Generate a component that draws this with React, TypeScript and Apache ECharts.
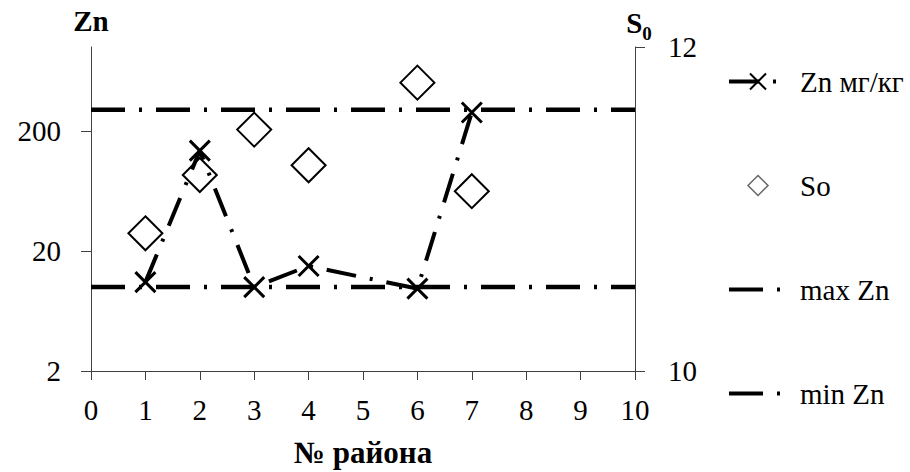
import React, { useEffect, useRef } from "react";
import * as echarts from "echarts";

const districtsZn = [1, 2, 3, 4, 6, 7];
const znValues = [11, 137, 10, 15, 9.7, 285];
const districtsSo = [1, 2, 3, 4, 6, 7];
const soValues = [10.85, 11.21, 11.49, 11.27, 11.78, 11.11];
const maxZn = 300;
const minZn = 10;
const xRange = [0, 10];
const leftTicks = [2, 20, 200];

const FONT = "'Liberation Serif', 'Times New Roman', serif";
const AXIS_COLOR = "#404040";

export default function App() {
  const ref = useRef<HTMLDivElement>(null);
  useEffect(() => {
    document.body.style.margin = "0";
    const chart = echarts.init(ref.current!, null, { renderer: "svg" });
    const lineDash = [34, 14, 3, 14];
    chart.setOption({
      animation: false,
      backgroundColor: "#fff",
      textStyle: { fontFamily: FONT, color: "#000" },
      grid: { left: 91, right: 275, top: 47, bottom: 101, outerBoundsMode: "none" },
      legend: {
        orient: "vertical",
        left: 722,
        top: 62,
        itemWidth: 58,
        itemHeight: 20,
        itemGap: 75,
        symbolKeepAspect: true,
        lineStyle: { width: 4 },
        textStyle: { fontFamily: FONT, fontSize: 29, color: "#000", padding: [0, 0, 0, 8] },
        data: [
          { name: "Zn мг/кг" },
          {
            name: "So",
            icon: "path://M9,0L18,9L9,18L0,9Z",
            itemStyle: { color: "none", borderColor: "#666", borderWidth: 1.5 },
          },
          { name: "max Zn", itemStyle: { opacity: 0 } },
          { name: "min Zn", itemStyle: { opacity: 0 } },
        ],
      },
      xAxis: {
        type: "value",
        min: xRange[0],
        max: xRange[1],
        interval: 1,
        name: "№ района",
        nameLocation: "middle",
        nameGap: 66,
        nameTextStyle: { fontFamily: FONT, fontWeight: "bold", fontSize: 31, color: "#000" },
        axisLine: { lineStyle: { color: AXIS_COLOR, width: 1 } },
        axisTick: { length: 9, lineStyle: { color: AXIS_COLOR } },
        axisLabel: { fontFamily: FONT, fontSize: 29, color: "#000", margin: 24 },
        splitLine: { show: false },
      },
      yAxis: [
        {
          type: "log",
          logBase: 10,
          min: 2,
          max: 1000,
          position: "left",
          name: "Zn",
          nameGap: 12,
          nameTextStyle: { fontFamily: FONT, fontWeight: "bold", fontSize: 29, color: "#000" },
          axisLine: { show: true, lineStyle: { color: AXIS_COLOR, width: 1 } },
          axisTick: { show: true, length: 10, customValues: leftTicks, lineStyle: { color: AXIS_COLOR } },
          axisLabel: { fontFamily: FONT, fontSize: 29, color: "#000", margin: 30, customValues: leftTicks },
          splitLine: { show: false },
        },
        {
          type: "value",
          min: 10,
          max: 12,
          interval: 2,
          position: "right",
          name: "{s|S}{sub|0}",
          nameGap: 11,
          nameTextStyle: {
            padding: [0, 0, 0, 8],
            rich: {
              s: { fontFamily: FONT, fontWeight: "bold", fontSize: 29, color: "#000", lineHeight: 28, verticalAlign: "top" },
              sub: {
                fontFamily: FONT,
                fontWeight: "bold",
                fontSize: 19,
                color: "#000",
                lineHeight: 20,
                verticalAlign: "top",
                padding: [16, 0, 0, 0],
              },
            },
          },
          axisLine: { show: true, lineStyle: { color: AXIS_COLOR, width: 1 } },
          axisTick: { show: true, length: 10, lineStyle: { color: AXIS_COLOR } },
          axisLabel: { fontFamily: FONT, fontSize: 29, color: "#000", margin: 33 },
          splitLine: { show: false },
        },
      ],
      series: [
        {
          name: "Zn мг/кг",
          type: "line",
          yAxisIndex: 0,
          data: districtsZn.map((x, i) => [x, znValues[i]]),
          symbol: "path://M0,0L10,10M10,0L0,10",
          symbolSize: 20,
          itemStyle: { color: "none", borderColor: "#000", borderWidth: 3 },
          lineStyle: { color: "#000", width: 4, type: [30, 14, 3, 14] },
          z: 3,
        },
        {
          name: "So",
          type: "scatter",
          yAxisIndex: 1,
          data: districtsSo.map((x, i) => [x, soValues[i]]),
          symbol: "diamond",
          symbolSize: 34,
          itemStyle: { color: "none", borderColor: "#000", borderWidth: 2, opacity: 1 },
          z: 4,
        },
        {
          name: "max Zn",
          type: "line",
          yAxisIndex: 0,
          data: [[xRange[0], maxZn], [xRange[1], maxZn]],
          symbol: "none",
          lineStyle: { color: "#000", width: 4.5, type: lineDash },
          z: 2,
        },
        {
          name: "min Zn",
          type: "line",
          yAxisIndex: 0,
          data: [[xRange[0], minZn], [xRange[1], minZn]],
          symbol: "none",
          lineStyle: { color: "#000", width: 4.5, type: lineDash },
          z: 2,
        },
      ],
    });
    return () => chart.dispose();
  }, []);
  return <div ref={ref} style={{ width: 910, height: 472 }} />;
}
